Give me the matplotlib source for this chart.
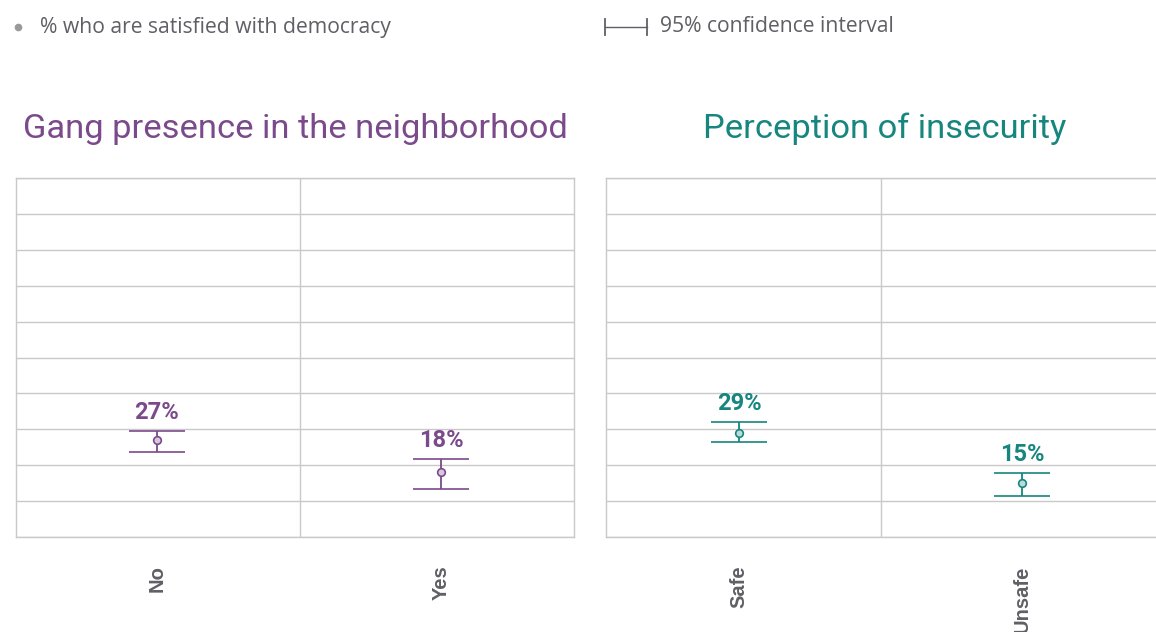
import matplotlib.pyplot as plt
from matplotlib.lines import Line2D

# data
gang_cats = ['No', 'Yes']
gang_vals = [27, 18]
gang_lo = [23.7, 13.4]
gang_hi = [29.5, 21.7]

insec_cats = ['Safe', 'Unsafe']
insec_vals = [29, 15]
insec_lo = [26.5, 11.4]
insec_hi = [32.0, 17.8]

PURPLE = '#7b4a8b'
TEAL = '#16867e'
GRID = '#c9c9c9'
GRAY = '#5f5f66'

W, H = 1156, 632
fig = plt.figure(figsize=(W / 100, H / 100), dpi=100)


def panel(x0, x1, xlim, divider, title_x, title, cats, vals, lo, hi, color, fill):
    ax = fig.add_axes([x0 / W, (H - 537) / H, (x1 - x0) / W, (537 - 178) / H])
    ax.set_xlim(*xlim)
    ax.set_ylim(0, 100)
    ax.set_yticks(range(0, 101, 10))
    ax.set_xticks([divider], minor=True)
    ax.grid(axis='y', color=GRID, lw=1)
    ax.grid(axis='x', which='minor', color=GRID, lw=1)
    ax.tick_params(axis='y', left=False, labelleft=False)
    ax.tick_params(axis='x', which='both', bottom=False)
    ax.set_xticks(range(len(cats)))
    ax.set_xticklabels(cats, rotation=90, fontsize=14.5, fontweight='bold',
                       color=GRAY, family='Liberation Sans')
    ax.tick_params(axis='x', pad=17)
    for s in ax.spines.values():
        s.set_color(GRID)
        s.set_linewidth(1)
    ax.set_axisbelow(True)
    xs = list(range(len(cats)))
    err = [[v - l for v, l in zip(vals, lo)], [h - v for v, h in zip(vals, hi)]]
    ax.errorbar(xs, vals, yerr=err, fmt='o', color=color, ms=5.5,
                mfc=fill, mec=color, mew=1.2, elinewidth=1.3,
                capsize=20, capthick=1.3)
    for x, v, h in zip(xs, vals, hi):
        ax.annotate(f'{v}%', (x, h), xytext=(0, 5), textcoords='offset points',
                    ha='center', va='bottom', color=color, fontsize=17,
                    fontweight='bold', family='Roboto')
    fig.text(title_x / W, 1 - 129 / H, title, ha='center', va='center',
             color=color, fontsize=24.8, family='Roboto')
    return ax


panel(16, 574, (-0.496, 1.468), 0.504, 295, 'Gang presence in the neighborhood',
      gang_cats, gang_vals, gang_lo, gang_hi, PURPLE, '#d8c8dd')
panel(606, 1164, (-0.47, 1.50), 0.502, 885, 'Perception of insecurity',
      insec_cats, insec_vals, insec_lo, insec_hi, TEAL, '#b8dcd8')

# legend line at the top
yy = 1 - 27 / H
fig.add_artist(Line2D([18 / W], [1 - 27 / H], marker='o', ms=4.5, color='#9a9a9a', lw=0))
fig.text(40 / W, yy, '% who are satisfied with democracy', ha='left', va='center',
         color=GRAY, fontsize=15.2, family='Open Sans')
fig.add_artist(Line2D([605 / W, 647 / W], [yy, yy], color=GRAY, lw=1))
for xx in (605, 647):
    fig.add_artist(Line2D([xx / W, xx / W], [yy - 8 / H, yy + 8 / H], color=GRAY, lw=1.3))
fig.text(660 / W, yy, '95% confidence interval', ha='left', va='center',
         color=GRAY, fontsize=15.2, family='Open Sans')

fig.savefig('out.png', dpi=100)
